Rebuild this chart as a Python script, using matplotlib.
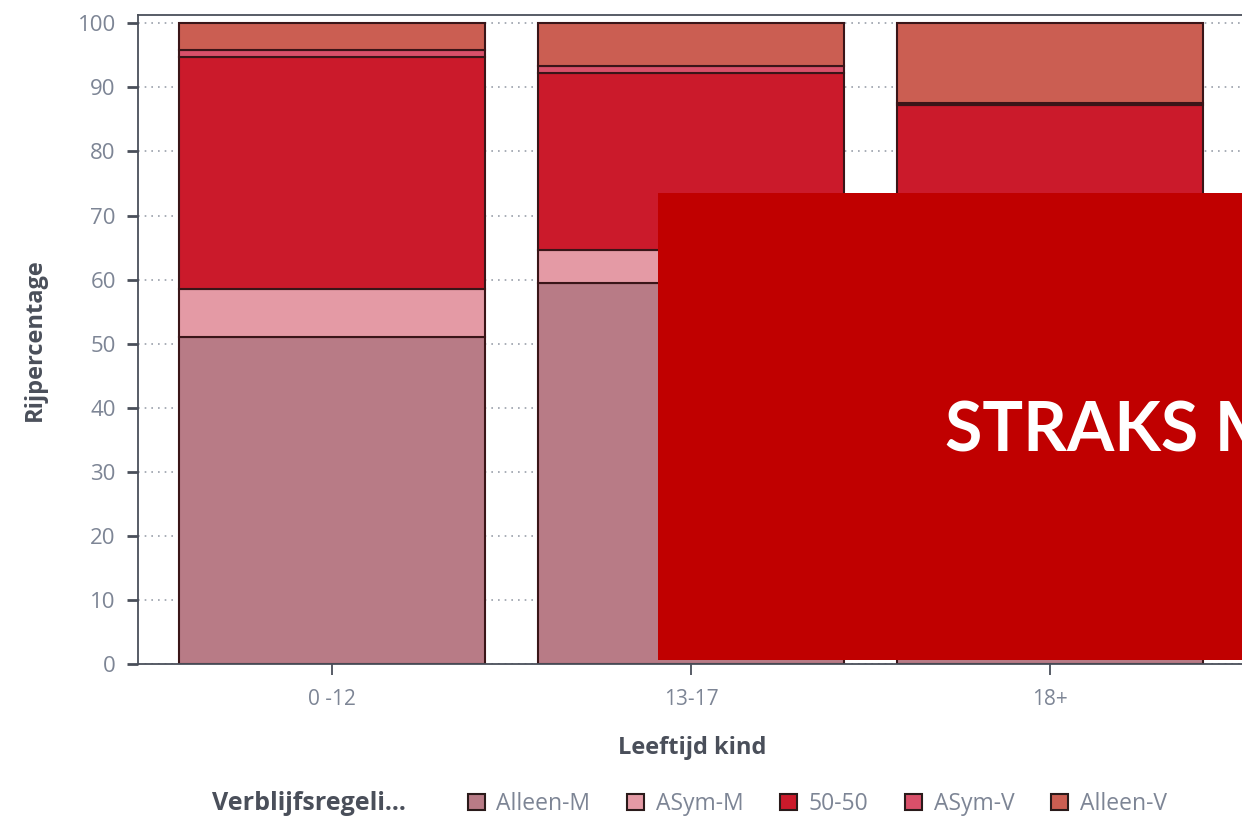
import numpy as np
import matplotlib.pyplot as plt
from matplotlib.patches import Patch, Rectangle

# leeftijdsgroepen en verblijfsregelingen (rijpercentages)
groepen = ['0 -12', '13-17', '18+']
regelingen = ['Alleen-M', 'ASym-M', '50-50', 'ASym-V', 'Alleen-V']
alleen_m = [51.1, 59.4, 62.0]
asym_m = [7.4, 5.2, 6.0]
vijftig = [36.3, 27.6, 19.3]
asym_v = [1.1, 1.1, 0.3]
alleen_v = [4.1, 6.7, 12.4]
kleuren = ['#b87b86', '#e49aa5', '#cb1a2b', '#d9506a', '#cb5e52']

grijs = '#7d8595'
donker = '#4a4f5a'
font = 'Open Sans'

fig = plt.figure(figsize=(12.42, 8.19), dpi=100)
ax = fig.add_axes([138 / 1242, 155 / 819, 1 - 138 / 1242 + 0.003, 649 / 819])

x = np.arange(len(groepen))
onder = np.zeros(len(groepen))
for naam, waarden, kleur in zip(regelingen, [alleen_m, asym_m, vijftig, asym_v, alleen_v], kleuren):
    ax.bar(x, waarden, width=0.85, bottom=onder, color=kleur, edgecolor='#3a1518',
           linewidth=1.5, zorder=2)
    onder += np.array(waarden)

ax.set_xlim(-0.54, 2.545)
ax.set_ylim(0, 101.3)
ax.set_yticks(range(0, 101, 10))
ax.set_xticks(x)
ax.set_xticklabels(groepen)
ax.yaxis.grid(True, linestyle=(0, (1, 3)), color='#9aa0aa', linewidth=1.2, zorder=0)

for kant in ['left', 'bottom', 'top']:
    ax.spines[kant].set_color(donker)
    ax.spines[kant].set_linewidth(1.3)
ax.spines['right'].set_visible(False)
ax.tick_params(axis='y', length=8, width=2, color=donker, labelcolor=grijs, labelsize=16, pad=8)
ax.tick_params(axis='x', length=8, width=1.3, color=donker, labelcolor=grijs, labelsize=15, pad=10)
for lbl in ax.get_xticklabels() + ax.get_yticklabels():
    lbl.set_fontfamily(font)

ax.set_ylabel('Rijpercentage', fontsize=17, fontweight='bold', color=donker,
              family=font, labelpad=22)
ax.set_xlabel('Leeftijd kind', fontsize=17, fontweight='bold', color=donker,
              family=font, labelpad=19)

# legenda onderaan
fig.text(212 / 1242, 1 - 804 / 819, 'Verblijfsregeli...', fontsize=18, fontweight='bold',
         color=donker, family=font, va='center')
handles = [Patch(facecolor=k, edgecolor='#2a1a1a', linewidth=1.5) for k in kleuren]
fig.legend(handles, regelingen, loc='center left', bbox_to_anchor=(447 / 1242, 1 - 804 / 819),
           ncol=5, frameon=False, handlelength=0.75, handleheight=0.75,
           handletextpad=0.5, columnspacing=1.6, labelcolor=grijs,
           prop={'family': font, 'size': 16.5})

# rode banner eroverheen
fig.patches.append(Rectangle((658 / 1242, 1 - 660 / 819), (1242 - 658) / 1242, 467 / 819,
                             transform=fig.transFigure, facecolor='#c00000', edgecolor='none',
                             zorder=10))
fig.text(945 / 1242, 1 - 432 / 819, 'STRAKS MEER', fontsize=49, fontweight='bold',
         color='white', family='Lato', va='center', ha='left', zorder=11)

fig.savefig('out.png', dpi=100)
